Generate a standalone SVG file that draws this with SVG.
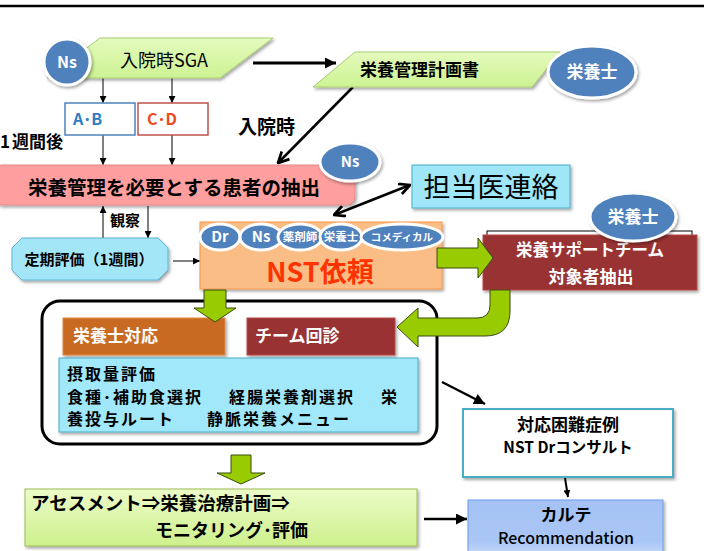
<svg xmlns="http://www.w3.org/2000/svg" width="704" height="551" viewBox="0 0 704 551">
<defs>
<style>
text{font-family:"Noto Sans CJK JP","Noto Sans",sans-serif;}
.b{font-weight:700;}
.w{fill:#fff;font-weight:700;}
.blue{fill:#4f81bd;stroke:#fff;stroke-width:3;}
.ln{stroke:#000;fill:none;}
.grn{fill:#99cc00;stroke:#3a4a10;stroke-width:1;}
.cy{font-weight:700;font-size:16px;letter-spacing:2px;}
</style>
<linearGradient id="gSga" x1="0" y1="0" x2="0" y2="1"><stop offset="0" stop-color="#e4fbbd"/><stop offset="1" stop-color="#cdf293"/></linearGradient>
<linearGradient id="gAss" x1="0" y1="0" x2="0" y2="1"><stop offset="0" stop-color="#ecfcc8"/><stop offset="1" stop-color="#cdf08c"/></linearGradient>
<linearGradient id="gChart" x1="0" y1="0" x2="0" y2="1"><stop offset="0" stop-color="#a4c2f4"/><stop offset="0.7" stop-color="#a9c6f5"/><stop offset="1" stop-color="#d6e4fb"/></linearGradient>
<filter id="sh" x="-20%" y="-20%" width="140%" height="150%"><feDropShadow dx="1.5" dy="2" stdDeviation="1.5" flood-color="#000" flood-opacity="0.35"/></filter>
<marker id="aF" viewBox="0 0 10 10" refX="10" refY="5" markerWidth="11" markerHeight="11" markerUnits="userSpaceOnUse" orient="auto-start-reverse"><path d="M0,0 L10,5 L0,10 z" fill="#000"/></marker>
<marker id="aS" viewBox="0 0 10 10" refX="10" refY="5" markerWidth="7" markerHeight="7" markerUnits="userSpaceOnUse" orient="auto-start-reverse"><path d="M0,0 L10,5 L0,10 z" fill="#000"/></marker>
<marker id="aV" viewBox="0 0 12 12" refX="11" refY="6" markerWidth="13" markerHeight="13" markerUnits="userSpaceOnUse" orient="auto-start-reverse"><path d="M1,1 L11,6 L1,11" fill="none" stroke="#000" stroke-width="2.5"/></marker>
</defs>
<rect x="0" y="0" width="704" height="551" fill="#fff"/>
<line x1="0" y1="6" x2="704" y2="6" stroke="#000" stroke-width="2.5"/>

<g id="connectors">
<line class="ln" x1="253" y1="63" x2="336" y2="63" stroke-width="3" marker-end="url(#aF)"/>
<line class="ln" x1="353" y1="87" x2="278" y2="163" stroke-width="2.5" marker-end="url(#aV)"/>
<line class="ln" x1="103" y1="78" x2="103" y2="103" stroke-width="1" marker-end="url(#aS)"/>
<line class="ln" x1="172" y1="78" x2="172" y2="103" stroke-width="1" marker-end="url(#aS)"/>
<line class="ln" x1="103" y1="135" x2="103" y2="165" stroke-width="1" marker-end="url(#aS)"/>
<line class="ln" x1="172" y1="135" x2="172" y2="165" stroke-width="1" marker-end="url(#aS)"/>
<line class="ln" x1="334" y1="215" x2="410" y2="185" stroke-width="2.5" marker-start="url(#aV)" marker-end="url(#aV)"/>
<line class="ln" x1="103" y1="238" x2="103" y2="206" stroke-width="1" marker-end="url(#aS)"/>
<line class="ln" x1="148" y1="206" x2="148" y2="238" stroke-width="1" marker-end="url(#aS)"/>
<line class="ln" x1="173" y1="261" x2="200" y2="261" stroke-width="1" marker-end="url(#aS)"/>
<line class="ln" x1="442" y1="382" x2="485" y2="404" stroke-width="2.5" marker-end="url(#aF)"/>
<line class="ln" x1="565" y1="478" x2="568" y2="497" stroke-width="2" marker-end="url(#aS)"/>
<line class="ln" x1="424" y1="519" x2="467" y2="519" stroke-width="2.5" marker-end="url(#aF)"/>
</g>

<g id="node-sga">
<polygon points="100,38 273,38 220,78 47,78" fill="url(#gSga)" stroke="#a9cc70" stroke-width="1" filter="url(#sh)"/>
<text x="164" y="67" font-size="18" text-anchor="middle">入院時SGA</text>
</g>
<g id="node-ns1">
<circle class="blue" cx="67" cy="62" r="23" filter="url(#sh)"/>
<text class="w" x="67" y="68" font-size="16" text-anchor="middle">Ns</text>
</g>

<g id="node-plan">
<polygon points="355,52 560,52 532,87 313,87" fill="url(#gSga)" stroke="#a9cc70" stroke-width="1" filter="url(#sh)"/>
<text class="b" x="360" y="76" font-size="17">栄養管理計画書</text>
</g>
<g id="node-dietitian1">
<ellipse class="blue" cx="592" cy="72" rx="44" ry="26" filter="url(#sh)"/>
<text class="w" x="592" y="78" font-size="17" text-anchor="middle">栄養士</text>
</g>

<g id="node-ab">
<rect x="65" y="103" width="70" height="32" fill="#fff" stroke="#4f81bd" stroke-width="1.5"/>
<text class="b" x="73" y="125" font-size="16" fill="#2f7bc6">A･B</text>
</g>
<g id="node-cd">
<rect x="138" y="103" width="70" height="32" fill="#fff" stroke="#c0504d" stroke-width="1.5"/>
<text class="b" x="147" y="125" font-size="16" fill="#ee4a1c">C･D</text>
</g>

<text class="b" x="0" y="148" font-size="17">1</text>
<text class="b" x="12" y="148" font-size="17">週間後</text>
<text class="b" x="238" y="134" font-size="19">入院時</text>

<g id="node-extract">
<rect x="-6" y="165" width="361" height="40" rx="8" fill="#ff9e9e" stroke="#e58a8a" stroke-width="1" filter="url(#sh)"/>
<text class="b" x="174" y="195" font-size="19.5" text-anchor="middle">栄養管理を必要とする患者の抽出</text>
</g>
<g id="node-ns2">
<ellipse class="blue" cx="350" cy="162" rx="30" ry="19" filter="url(#sh)"/>
<text class="w" x="350" y="167" font-size="15" text-anchor="middle">Ns</text>
</g>

<g id="node-doctor">
<rect x="412" y="165" width="158" height="43" fill="#9ee6f8" stroke="#4bacc6" stroke-width="1" filter="url(#sh)"/>
<text x="491" y="197" font-size="27" text-anchor="middle">担当医連絡</text>
</g>

<text class="b" x="110" y="226" font-size="15">観察</text>

<g id="node-periodic">
<polygon points="22,238 158,238 168,248 168,270 158,280 22,280 12,270 12,248" fill="#a3e6f7" stroke="#5fb5cf" stroke-width="1" filter="url(#sh)"/>
<text class="b" x="89" y="265" font-size="15" text-anchor="middle">定期評価（1週間）</text>
</g>

<g id="node-nst">
<rect x="200" y="222" width="242" height="67" fill="#fbbd86" stroke="#f79646" stroke-width="1" filter="url(#sh)"/>
<ellipse class="blue" cx="220" cy="237" rx="20" ry="13"/>
<ellipse class="blue" cx="261" cy="237" rx="21" ry="13"/>
<ellipse class="blue" cx="300" cy="237" rx="22" ry="13"/>
<ellipse class="blue" cx="341" cy="237" rx="21" ry="13"/>
<ellipse class="blue" cx="402" cy="237" rx="41" ry="13"/>
<text class="w" x="220" y="242" font-size="15" text-anchor="middle">Dr</text>
<text class="w" x="261" y="242" font-size="15" text-anchor="middle">Ns</text>
<text class="w" x="300" y="241" font-size="11.5" text-anchor="middle">薬剤師</text>
<text class="w" x="341" y="241" font-size="11.5" text-anchor="middle">栄養士</text>
<text class="w" x="402" y="241" font-size="10.5" text-anchor="middle">コメディカル</text>
<text class="b" x="320" y="282" font-size="27" text-anchor="middle" fill="#ff3300">NST依頼</text>
</g>

<g id="node-team">
<rect x="487" y="231" width="205" height="20" fill="#fff" stroke="#000" stroke-width="1"/>
<rect x="483" y="235" width="214" height="55" fill="#993333" stroke="#b84a4a" stroke-width="1" filter="url(#sh)"/>
<text class="w" x="590" y="256" font-size="16.5" text-anchor="middle">栄養サポートチーム</text>
<text class="w" x="591" y="283" font-size="17" text-anchor="middle">対象者抽出</text>
</g>
<g id="node-dietitian2">
<ellipse class="blue" cx="633" cy="217" rx="43" ry="24" filter="url(#sh)"/>
<text class="w" x="633" y="223" font-size="17" text-anchor="middle">栄養士</text>
</g>

<g id="node-response">
<rect x="42" y="301" width="395" height="143" rx="18" fill="#fff" stroke="#000" stroke-width="3"/>
<rect x="63" y="318" width="162" height="37" fill="#c96b20" stroke="#e08a40" stroke-width="1" filter="url(#sh)"/>
<text class="w" x="73" y="342" font-size="17">栄養士対応</text>
<rect x="247" y="318" width="148" height="37" fill="#993333" stroke="#b84a4a" stroke-width="1" filter="url(#sh)"/>
<text class="w" x="255" y="342" font-size="17">チーム回診</text>
<rect x="59" y="358" width="359" height="74" fill="#a2e8fb" stroke="#4bacc6" stroke-width="1" filter="url(#sh)"/>
<text class="cy" x="67" y="380">摂取量評価</text>
<text class="cy" y="403"><tspan x="67">食種･補助食選択</tspan><tspan x="229">経腸栄養剤選択</tspan><tspan x="381">栄</tspan></text>
<text class="cy" y="425"><tspan x="67">養投与ルート</tspan><tspan x="207">静脈栄養メニュー</tspan></text>
</g>

<g id="green-arrows">
<polygon class="grn" points="437,248 478,248 478,238 493,258 478,278 478,268 437,268"/>
<path class="grn" d="M490,290 L490,305 Q490,318 477,318 L418,318 L418,308 L397,327 L418,347 L418,336 L485,336 Q510,336 510,311 L510,290 Z"/>
<polygon class="grn" points="204,290 226,290 226,308 236,308 215,322 194,308 204,308"/>
<polygon class="grn" points="231,455 251,455 251,473 265,473 241,484 217,473 231,473"/>
</g>

<g id="node-difficult">
<rect x="463" y="409" width="210" height="68" fill="#fff" stroke="#4bacc6" stroke-width="2" filter="url(#sh)"/>
<text class="b" x="568" y="431" font-size="17" text-anchor="middle">対応困難症例</text>
<text class="b" x="568" y="453" font-size="15.5" text-anchor="middle">NST Drコンサルト</text>
</g>

<g id="node-chart">
<rect x="468" y="500" width="195" height="60" fill="url(#gChart)" stroke="#6d9eeb" stroke-width="1" filter="url(#sh)"/>
<text class="b" x="566" y="521" font-size="17" text-anchor="middle">カルテ</text>
<text x="566" y="544" font-size="16" text-anchor="middle" font-weight="500">Recommendation</text>
</g>

<g id="node-assessment">
<rect x="25" y="489" width="392" height="57" fill="url(#gAss)" stroke="#9bbb59" stroke-width="1" filter="url(#sh)"/>
<text class="b" x="31" y="510" font-size="18.5">アセスメント⇒栄養治療計画⇒</text>
<text class="b" x="155" y="537" font-size="18">モニタリング･評価</text>
</g>
</svg>
